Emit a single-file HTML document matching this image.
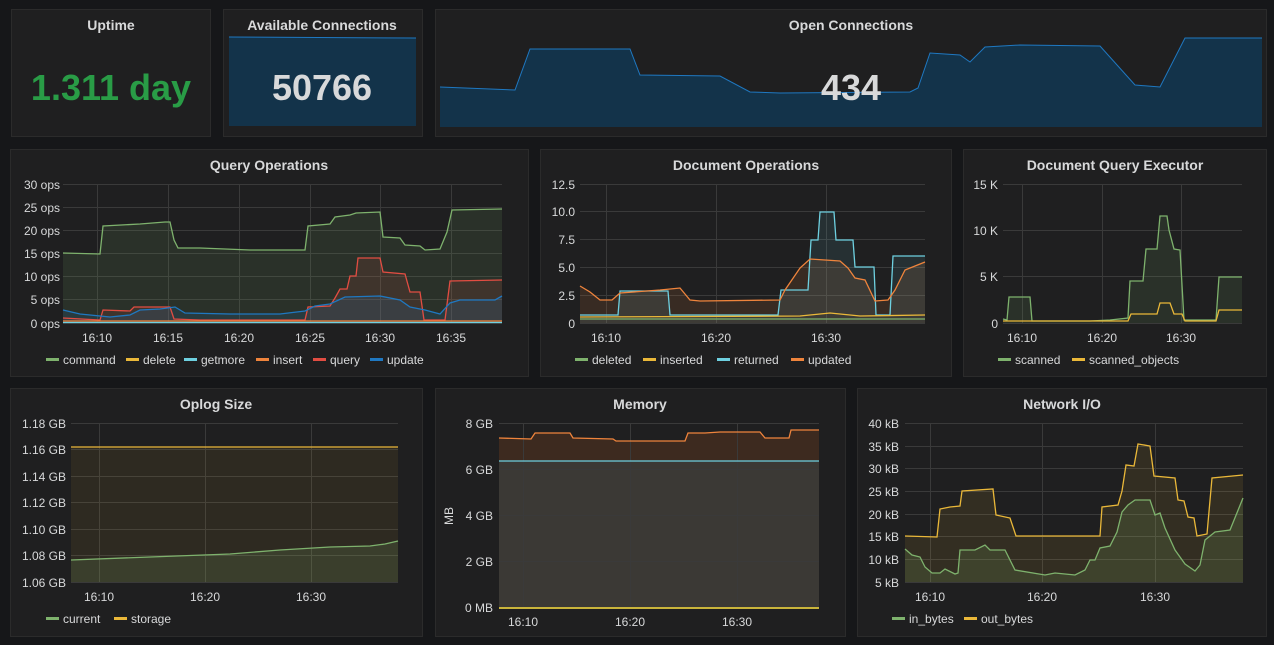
<!DOCTYPE html>
<html><head><meta charset="utf-8"><style>
html,body{margin:0;padding:0;background:#161719;width:1274px;height:645px;overflow:hidden}
svg{display:block}
text{font-family:"Liberation Sans",sans-serif;fill:#d8d9da}
.t{font-size:14px;font-weight:bold;text-anchor:middle}
.y{font-size:12px;text-anchor:end}
.x{font-size:12px;text-anchor:middle}
.l{font-size:12px}
.g{stroke:#3a3a3a;stroke-width:1}
</style></head><body>
<svg width="1274" height="645" viewBox="0 0 1274 645">
<rect width="1274" height="645" fill="#161719"/>
<g fill="#1f1f20" stroke="#2b2b2b">
<rect x="11.5" y="9.5" width="199" height="127"/>
<rect x="223.5" y="9.5" width="199" height="127"/>
<rect x="435.5" y="9.5" width="831" height="127"/>
<rect x="10.5" y="149.5" width="518" height="227"/>
<rect x="540.5" y="149.5" width="411" height="227"/>
<rect x="963.5" y="149.5" width="303" height="227"/>
<rect x="10.5" y="388.5" width="412" height="248"/>
<rect x="435.5" y="388.5" width="410" height="248"/>
<rect x="857.5" y="388.5" width="409" height="248"/>
</g>
<!-- row 1 -->
<text class="t" x="111" y="30">Uptime</text>
<text x="111" y="100" style="font-size:36px;font-weight:bold;text-anchor:middle;fill:#299c46">1.311 day</text>
<text class="t" x="322" y="30">Available Connections</text>
<polygon points="229,37 416,38 416,126 229,126" fill="#13334a"/>
<polyline points="229,37 416,38" fill="none" stroke="#1f78c1" stroke-width="1"/>
<text x="322" y="100" style="font-size:36px;font-weight:bold;text-anchor:middle">50766</text>
<text class="t" x="851" y="30">Open Connections</text>
<polygon points="440,87 515,90 530,49 630,49 640,75 720,76 750,92 780,93 910,92 918,88 930,53 960,55 970,62 985,47 1020,45 1100,46 1135,85 1160,87 1185,38 1262,38 1262,127 440,127" fill="#13334a"/>
<polyline points="440,87 515,90 530,49 630,49 640,75 720,76 750,92 780,93 910,92 918,88 930,53 960,55 970,62 985,47 1020,45 1100,46 1135,85 1160,87 1185,38 1262,38" fill="none" stroke="#1f78c1"/>
<text x="851" y="100" style="font-size:36px;font-weight:bold;text-anchor:middle">434</text>

<!-- Query Operations -->
<text class="t" x="269" y="170">Query Operations</text>
<g class="g">
<line x1="63" x2="502" y1="184.5" y2="184.5"/><line x1="63" x2="502" y1="207.5" y2="207.5"/><line x1="63" x2="502" y1="230.5" y2="230.5"/><line x1="63" x2="502" y1="253.5" y2="253.5"/><line x1="63" x2="502" y1="276.5" y2="276.5"/><line x1="63" x2="502" y1="299.5" y2="299.5"/><line x1="63" x2="502" y1="323.5" y2="323.5"/>
<line x1="97.5" x2="97.5" y1="184" y2="323"/><line x1="168.5" x2="168.5" y1="184" y2="323"/><line x1="239.5" x2="239.5" y1="184" y2="323"/><line x1="310.5" x2="310.5" y1="184" y2="323"/><line x1="380.5" x2="380.5" y1="184" y2="323"/><line x1="451.5" x2="451.5" y1="184" y2="323"/>
</g>
<g class="y"><text x="60" y="189">30 ops</text><text x="60" y="212">25 ops</text><text x="60" y="235">20 ops</text><text x="60" y="258">15 ops</text><text x="60" y="281">10 ops</text><text x="60" y="304">5 ops</text><text x="60" y="328">0 ops</text></g>
<g class="x"><text x="97" y="342">16:10</text><text x="168" y="342">16:15</text><text x="239" y="342">16:20</text><text x="310" y="342">16:25</text><text x="380" y="342">16:30</text><text x="451" y="342">16:35</text></g>
<polygon points="63,253 100,254 103,226 140,224 165,222 170,222 174,240 178,248 200,248 250,250 305,250 308,226 330,224 335,217 350,215 356,213 380,212 383,237 400,238 405,245 420,246 425,250 440,249 447,232 452,210 502,209 502,323 63,323" fill="#7eb26d" fill-opacity="0.12"/>
<polygon points="63,318 100,320 103,310 130,311 134,307 170,307 174,319 200,320 305,320 308,307 330,306 335,298 340,289 347,289 350,276 356,276 358,258 380,258 383,272 405,274 410,292 420,292 424,320 445,320 450,281 502,280 502,323 63,323" fill="#e24d42" fill-opacity="0.12"/>
<polygon points="63,310 80,314 100,316 110,317 130,315 140,310 160,309 175,307 185,313 230,314 280,314 305,311 315,306 330,304 345,297 380,296 400,300 410,307 425,310 440,314 450,303 460,300 495,300 502,296 502,323 63,323" fill="#1f78c1" fill-opacity="0.15"/>
<g fill="none" stroke-width="1.3">
<polyline stroke="#7eb26d" points="63,253 100,254 103,226 140,224 165,222 170,222 174,240 178,248 200,248 250,250 305,250 308,226 330,224 335,217 350,215 356,213 380,212 383,237 400,238 405,245 420,246 425,250 440,249 447,232 452,210 502,209"/>
<polyline stroke="#e24d42" points="63,318 100,320 103,310 130,311 134,307 170,307 174,319 200,320 305,320 308,307 330,306 335,298 340,289 347,289 350,276 356,276 358,258 380,258 383,272 405,274 410,292 420,292 424,320 445,320 450,281 502,280"/>
<polyline stroke="#1f78c1" points="63,310 80,314 100,316 110,317 130,315 140,310 160,309 175,307 185,313 230,314 280,314 305,311 315,306 330,304 345,297 380,296 400,300 410,307 425,310 440,314 450,303 460,300 495,300 502,296"/>
<polyline stroke="#ef843c" points="63,321 502,321"/>
<polyline stroke="#6ed0e0" points="63,322.5 502,322.5"/>
</g>
<g class="l">
<rect x="46" y="358" width="13" height="3" fill="#7eb26d"/><text x="63" y="364">command</text>
<rect x="126" y="358" width="13" height="3" fill="#eab839"/><text x="143" y="364">delete</text>
<rect x="184" y="358" width="13" height="3" fill="#6ed0e0"/><text x="201" y="364">getmore</text>
<rect x="256" y="358" width="13" height="3" fill="#ef843c"/><text x="273" y="364">insert</text>
<rect x="313" y="358" width="13" height="3" fill="#e24d42"/><text x="330" y="364">query</text>
<rect x="370" y="358" width="13" height="3" fill="#1f78c1"/><text x="387" y="364">update</text>
</g>

<!-- Document Operations -->
<text class="t" x="746" y="170">Document Operations</text>
<g class="g">
<line x1="580" x2="925" y1="184.5" y2="184.5"/><line x1="580" x2="925" y1="211.5" y2="211.5"/><line x1="580" x2="925" y1="239.5" y2="239.5"/><line x1="580" x2="925" y1="267.5" y2="267.5"/><line x1="580" x2="925" y1="295.5" y2="295.5"/><line x1="580" x2="925" y1="323.5" y2="323.5"/>
<line x1="606.5" x2="606.5" y1="184" y2="323"/><line x1="716.5" x2="716.5" y1="184" y2="323"/><line x1="826.5" x2="826.5" y1="184" y2="323"/>
</g>
<g class="y"><text x="575" y="189">12.5</text><text x="575" y="216">10.0</text><text x="575" y="244">7.5</text><text x="575" y="272">5.0</text><text x="575" y="300">2.5</text><text x="575" y="328">0</text></g>
<g class="x"><text x="606" y="342">16:10</text><text x="716" y="342">16:20</text><text x="826" y="342">16:30</text></g>
<polygon points="580,286 590,292 600,300 612,300 620,293 660,290 680,288 690,300 700,301 780,300 785,290 800,268 810,259 840,261 848,268 855,278 865,280 875,301 888,300 895,290 905,270 925,262 925,323 580,323" fill="#ef843c" fill-opacity="0.12"/>
<polygon points="580,315 618,315 620,291 668,291 670,315 778,315 781,290 808,290 811,240 818,240 820,212 834,212 836,240 853,240 855,267 874,267 876,315 890,315 893,256 925,256 925,323 580,323" fill="#6ed0e0" fill-opacity="0.1"/>
<g fill="none" stroke-width="1.3">
<polyline stroke="#6ed0e0" points="580,315 618,315 620,291 668,291 670,315 778,315 781,290 808,290 811,240 818,240 820,212 834,212 836,240 853,240 855,267 874,267 876,315 890,315 893,256 925,256"/>
<polyline stroke="#ef843c" points="580,286 590,292 600,300 612,300 620,293 660,290 680,288 690,300 700,301 780,300 785,290 800,268 810,259 840,261 848,268 855,278 865,280 875,301 888,300 895,290 905,270 925,262"/>
<polyline stroke="#eab839" points="580,317 800,316 830,313 860,316 925,315"/>
<polyline stroke="#7eb26d" points="580,319 925,319"/>
</g>
<g class="l">
<rect x="575" y="358" width="13" height="3" fill="#7eb26d"/><text x="592" y="364">deleted</text>
<rect x="643" y="358" width="13" height="3" fill="#eab839"/><text x="660" y="364">inserted</text>
<rect x="717" y="358" width="13" height="3" fill="#6ed0e0"/><text x="734" y="364">returned</text>
<rect x="791" y="358" width="13" height="3" fill="#ef843c"/><text x="808" y="364">updated</text>
</g>

<!-- Document Query Executor -->
<text class="t" x="1115" y="170">Document Query Executor</text>
<g class="g">
<line x1="1003" x2="1242" y1="184.5" y2="184.5"/><line x1="1003" x2="1242" y1="230.5" y2="230.5"/><line x1="1003" x2="1242" y1="276.5" y2="276.5"/><line x1="1003" x2="1242" y1="323.5" y2="323.5"/>
<line x1="1022.5" x2="1022.5" y1="184" y2="323"/><line x1="1102.5" x2="1102.5" y1="184" y2="323"/><line x1="1181.5" x2="1181.5" y1="184" y2="323"/>
</g>
<g class="y"><text x="998" y="189">15 K</text><text x="998" y="235">10 K</text><text x="998" y="281">5 K</text><text x="998" y="328">0</text></g>
<g class="x"><text x="1022" y="342">16:10</text><text x="1102" y="342">16:20</text><text x="1181" y="342">16:30</text></g>
<polygon points="1003,319 1007,320 1009,297 1030,297 1032,321 1090,321 1110,320 1128,318 1130,281 1143,281 1146,249 1157,249 1160,216 1167,216 1169,230 1174,249 1180,250 1184,320 1216,320 1219,277 1242,277 1242,323 1003,323" fill="#7eb26d" fill-opacity="0.12"/>
<g fill="none" stroke-width="1.3">
<polyline stroke="#7eb26d" points="1003,319 1007,320 1009,297 1030,297 1032,321 1090,321 1110,320 1128,318 1130,281 1143,281 1146,249 1157,249 1160,216 1167,216 1169,230 1174,249 1180,250 1184,320 1216,320 1219,277 1242,277"/>
<polyline stroke="#eab839" points="1003,321 1128,321 1131,314 1157,314 1160,303 1170,303 1174,314 1182,314 1185,321 1216,321 1219,310 1242,310"/>
</g>
<g class="l">
<rect x="998" y="358" width="13" height="3" fill="#7eb26d"/><text x="1015" y="364">scanned</text>
<rect x="1072" y="358" width="13" height="3" fill="#eab839"/><text x="1089" y="364">scanned_objects</text>
</g>

<!-- Oplog Size -->
<text class="t" x="216" y="409">Oplog Size</text>
<g class="g">
<line x1="71" x2="398" y1="423.5" y2="423.5"/><line x1="71" x2="398" y1="449.5" y2="449.5"/><line x1="71" x2="398" y1="476.5" y2="476.5"/><line x1="71" x2="398" y1="502.5" y2="502.5"/><line x1="71" x2="398" y1="529.5" y2="529.5"/><line x1="71" x2="398" y1="555.5" y2="555.5"/><line x1="71" x2="398" y1="582.5" y2="582.5"/>
<line x1="99.5" x2="99.5" y1="423" y2="582"/><line x1="205.5" x2="205.5" y1="423" y2="582"/><line x1="311.5" x2="311.5" y1="423" y2="582"/>
</g>
<g class="y"><text x="66" y="428">1.18 GB</text><text x="66" y="454">1.16 GB</text><text x="66" y="481">1.14 GB</text><text x="66" y="507">1.12 GB</text><text x="66" y="534">1.10 GB</text><text x="66" y="560">1.08 GB</text><text x="66" y="587">1.06 GB</text></g>
<g class="x"><text x="99" y="601">16:10</text><text x="205" y="601">16:20</text><text x="311" y="601">16:30</text></g>
<polygon points="71,447 398,447 398,582 71,582" fill="#eab839" fill-opacity="0.08"/>
<polygon points="71,560 150,557 230,554 280,550 330,547 370,546 385,544 398,541 398,582 71,582" fill="#7eb26d" fill-opacity="0.15"/>
<g fill="none" stroke-width="1.3">
<polyline stroke="#eab839" points="71,447 398,447"/>
<polyline stroke="#7eb26d" points="71,560 150,557 230,554 280,550 330,547 370,546 385,544 398,541"/>
</g>
<g class="l">
<rect x="46" y="617" width="13" height="3" fill="#7eb26d"/><text x="63" y="623">current</text>
<rect x="114" y="617" width="13" height="3" fill="#eab839"/><text x="131" y="623">storage</text>
</g>

<!-- Memory -->
<text class="t" x="640" y="409">Memory</text>
<polygon points="499,438 531,439 535,433 570,433 573,438 613,439 616,441 685,441 688,433 705,433 720,432 760,432 765,438 789,438 791,430 819,430 819,461 499,461" fill="#3d2a1f"/>
<polygon points="499,461 819,461 819,608 499,608" fill="#3b3935"/>
<g class="g">
<line x1="499" x2="819" y1="423.5" y2="423.5"/><line x1="499" x2="819" y1="469.5" y2="469.5"/><line x1="499" x2="819" y1="515.5" y2="515.5"/><line x1="499" x2="819" y1="561.5" y2="561.5"/>
<line x1="523.5" x2="523.5" y1="423" y2="608"/><line x1="630.5" x2="630.5" y1="423" y2="608"/><line x1="737.5" x2="737.5" y1="423" y2="608"/>
</g>
<g class="y"><text x="493" y="428">8 GB</text><text x="493" y="474">6 GB</text><text x="493" y="520">4 GB</text><text x="493" y="566">2 GB</text><text x="493" y="612">0 MB</text></g>
<text class="l" transform="translate(453,516) rotate(-90)" style="text-anchor:middle">MB</text>
<g class="x"><text x="523" y="626">16:10</text><text x="630" y="626">16:20</text><text x="737" y="626">16:30</text></g>
<g fill="none" stroke-width="1.3">
<polyline stroke="#ef843c" points="499,438 531,439 535,433 570,433 573,438 613,439 616,441 685,441 688,433 705,433 720,432 760,432 765,438 789,438 791,430 819,430"/>
<polyline stroke="#6ed0e0" points="499,461 819,461"/>
<polyline stroke="#c9b43b" stroke-width="2" points="499,608 819,608"/>
</g>

<!-- Network I/O -->
<text class="t" x="1062" y="409">Network I/O</text>
<g class="g">
<line x1="905" x2="1243" y1="423.5" y2="423.5"/><line x1="905" x2="1243" y1="446.5" y2="446.5"/><line x1="905" x2="1243" y1="468.5" y2="468.5"/><line x1="905" x2="1243" y1="491.5" y2="491.5"/><line x1="905" x2="1243" y1="514.5" y2="514.5"/><line x1="905" x2="1243" y1="536.5" y2="536.5"/><line x1="905" x2="1243" y1="559.5" y2="559.5"/><line x1="905" x2="1243" y1="582.5" y2="582.5"/>
<line x1="930.5" x2="930.5" y1="423" y2="582"/><line x1="1042.5" x2="1042.5" y1="423" y2="582"/><line x1="1155.5" x2="1155.5" y1="423" y2="582"/>
</g>
<g class="y"><text x="899" y="428">40 kB</text><text x="899" y="451">35 kB</text><text x="899" y="473">30 kB</text><text x="899" y="496">25 kB</text><text x="899" y="519">20 kB</text><text x="899" y="541">15 kB</text><text x="899" y="564">10 kB</text><text x="899" y="587">5 kB</text></g>
<g class="x"><text x="930" y="601">16:10</text><text x="1042" y="601">16:20</text><text x="1155" y="601">16:30</text></g>
<polygon points="905,536 937,537 940,509 950,507 960,506 962,491 993,489 996,515 1010,518 1016,536 1100,536 1102,507 1118,505 1122,491 1126,465 1134,466 1138,444 1150,446 1154,476 1175,478 1178,500 1184,501 1188,517 1194,518 1197,536 1207,534 1212,478 1243,475 1243,582 905,582" fill="#eab839" fill-opacity="0.1"/>
<polygon points="905,549 912,555 920,557 925,567 932,573 940,573 945,569 955,574 958,573 960,550 975,550 985,545 990,550 1005,550 1015,570 1045,575 1055,573 1075,575 1085,570 1090,560 1095,560 1100,548 1110,546 1117,532 1122,512 1128,505 1135,500 1150,500 1155,515 1160,513 1165,528 1175,550 1185,564 1195,571 1200,565 1205,540 1215,532 1230,530 1243,498 1243,582 905,582" fill="#7eb26d" fill-opacity="0.15"/>
<g fill="none" stroke-width="1.3">
<polyline stroke="#eab839" points="905,536 937,537 940,509 950,507 960,506 962,491 993,489 996,515 1010,518 1016,536 1100,536 1102,507 1118,505 1122,491 1126,465 1134,466 1138,444 1150,446 1154,476 1175,478 1178,500 1184,501 1188,517 1194,518 1197,536 1207,534 1212,478 1243,475"/>
<polyline stroke="#7eb26d" points="905,549 912,555 920,557 925,567 932,573 940,573 945,569 955,574 958,573 960,550 975,550 985,545 990,550 1005,550 1015,570 1045,575 1055,573 1075,575 1085,570 1090,560 1095,560 1100,548 1110,546 1117,532 1122,512 1128,505 1135,500 1150,500 1155,515 1160,513 1165,528 1175,550 1185,564 1195,571 1200,565 1205,540 1215,532 1230,530 1243,498"/>
</g>
<g class="l">
<rect x="892" y="617" width="13" height="3" fill="#7eb26d"/><text x="909" y="623">in_bytes</text>
<rect x="964" y="617" width="13" height="3" fill="#eab839"/><text x="981" y="623">out_bytes</text>
</g>
</svg>
</body></html>
